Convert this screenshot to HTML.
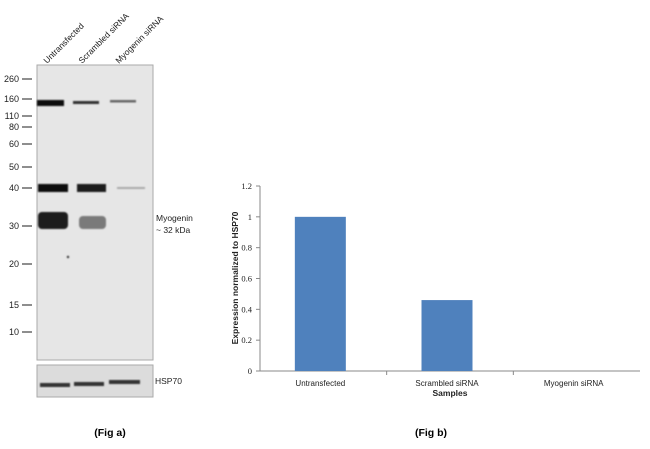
<!DOCTYPE html>
<html><head><meta charset="utf-8"><style>
body{margin:0;background:#fff;width:650px;height:444px;overflow:hidden;font-family:"Liberation Sans",sans-serif}
svg text{font-family:"Liberation Sans",sans-serif}
svg text.serif{font-family:"Liberation Serif",serif}
</style></head><body>
<svg width="650" height="444">
<defs>
<filter id="blur2"><feGaussianBlur stdDeviation="0.9"/></filter>
</defs>
<g>
<rect x="37" y="65" width="116" height="295" fill="#e6e6e6" stroke="#aaa" stroke-width="1"/>
<g filter="url(#blur2)">
<rect x="37" y="100" width="27" height="6" fill="#111"/>
<rect x="73" y="101" width="26" height="3" fill="#333"/>
<rect x="110" y="100" width="26" height="2.5" fill="#666"/>
<rect x="38" y="184" width="30" height="8" fill="#111"/>
<rect x="77" y="184" width="29" height="8" fill="#1a1a1a"/>
<rect x="117" y="187" width="28" height="2" fill="#aaa"/>
<rect x="38" y="212" width="30" height="17" rx="4" fill="#1a1a1a"/>
<rect x="79" y="216" width="27" height="13" rx="4" fill="#7a7a7a"/>
<circle cx="68" cy="257" r="1.2" fill="#333"/>
</g>
<g font-size="9" fill="#222" stroke="none">
<g stroke="#444" stroke-width="1.2">
<line x1="22" x2="32" y1="79" y2="79"/><line x1="22" x2="32" y1="99" y2="99"/><line x1="22" x2="32" y1="116" y2="116"/><line x1="22" x2="32" y1="127" y2="127"/><line x1="22" x2="32" y1="144" y2="144"/><line x1="22" x2="32" y1="167" y2="167"/><line x1="22" x2="32" y1="188" y2="188"/><line x1="22" x2="32" y1="226" y2="226"/><line x1="22" x2="32" y1="264" y2="264"/><line x1="22" x2="32" y1="305" y2="305"/><line x1="22" x2="32" y1="332" y2="332"/>
</g>
<g text-anchor="end">
<text x="19" y="82">260</text><text x="19" y="102">160</text><text x="19" y="119">110</text><text x="19" y="130">80</text><text x="19" y="147">60</text><text x="19" y="170">50</text><text x="19" y="191">40</text><text x="19" y="229">30</text><text x="19" y="267">20</text><text x="19" y="308">15</text><text x="19" y="335">10</text>
</g>
</g>
<g font-size="8.5" fill="#222">
<text transform="translate(47,64) rotate(-45)">Untransfected</text>
<text transform="translate(82,64) rotate(-45)">Scrambled siRNA</text>
<text transform="translate(119,64) rotate(-45)">Myogenin siRNA</text>
</g>
<text x="156" y="221" font-size="8.5" fill="#222">Myogenin</text>
<text x="156" y="233" font-size="8.5" fill="#222">~ 32 kDa</text>
<rect x="37" y="365" width="116" height="32" fill="#dcdcdc" stroke="#aaa"/>
<g filter="url(#blur2)">
<rect x="40" y="383" width="30" height="4" fill="#333"/>
<rect x="74" y="382" width="30" height="4" fill="#333"/>
<rect x="109" y="380" width="31" height="4" fill="#333"/>
</g>
<text x="155" y="384" font-size="8.5" fill="#222">HSP70</text>
<text x="110" y="436" font-size="10.5" font-weight="bold" text-anchor="middle">(Fig a)</text>
</g>
<g id="chart"></g>
<text x="431" y="436" font-size="10.5" font-weight="bold" text-anchor="middle">(Fig b)</text>
</svg>
<script>
const categories=["Untransfected","Scrambled siRNA","Myogenin siRNA"];
const values=[1.0,0.46,0];
const yTicks=[0,0.2,0.4,0.6,0.8,1,1.2];
const yTickLabels=["0","0.2","0.4","0.6","0.8","1","1.2"];
const NS="http://www.w3.org/2000/svg";
const g=document.getElementById('chart');
const x0=260,x1=640,yb=371,yt=186,ymax=1.2;
const y=v=>yb-(v/ymax)*(yb-yt);
const bw=(x1-x0)/categories.length;
const xc=i=>x0+bw*(i+0.5)-3;
function mk(t,a){const e=document.createElementNS(NS,t);for(const k in a)e.setAttribute(k,a[k]);g.appendChild(e);return e;}
let e=mk('line',{x1:x0,x2:x0,y1:yt,y2:yb,stroke:'#888'});


e=mk('line',{x1:x0,x2:x1,y1:yb,y2:yb,stroke:'#888'});


yTicks.forEach((v,i)=>{
  const t=mk('line',{x1:x0-4,x2:x0,y1:y(v),y2:y(v),stroke:'#888'});
  
  
  const l=mk('text',{x:x0-8,y:y(v)+3,'font-size':'8.5','text-anchor':'end',fill:'#222','class':'serif'});
  l.textContent=yTickLabels[i];
  
  
});
for(let i=1;i<categories.length;i++){
  const t=mk('line',{x1:x0+bw*i,x2:x0+bw*i,y1:yb,y2:yb+4,stroke:'#888'});
  
  
}
categories.forEach((c,i)=>{
  const b=mk('rect',{x:xc(i)-25.5,y:y(values[i]),width:51,height:yb-y(values[i]),fill:'#4f81bd'});
  
  
  const l=mk('text',{x:xc(i),y:yb+15,'font-size':'8','text-anchor':'middle',fill:'#222'});
  l.textContent=c;
  
  
});
e=mk('text',{x:450,y:396,'font-size':'8.5','font-weight':'bold','text-anchor':'middle',fill:'#222'});
e.textContent='Samples';


e=mk('text',{transform:'translate(238,278) rotate(-90)','font-size':'8.5','font-weight':'bold','text-anchor':'middle',fill:'#222'});
e.textContent='Expression  normalized to HSP70';


</script>
</body></html>
